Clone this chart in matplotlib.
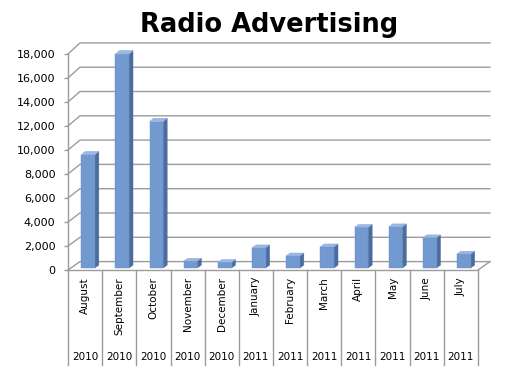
import matplotlib
matplotlib.use("Agg")
import matplotlib.pyplot as plt
import matplotlib.transforms as mtransforms
from matplotlib.patches import Polygon

# Data
months = ["August", "September", "October", "November", "December", "January",
          "February", "March", "April", "May", "June", "July"]
years = ["2010", "2010", "2010", "2010", "2010", "2011",
         "2011", "2011", "2011", "2011", "2011", "2011"]
values = [9400, 17750, 12150, 560, 460, 1670, 1000, 1750, 3360, 3410, 2500, 1150]
yticks = list(range(0, 18001, 2000))

# 3D look (oblique offset of the back wall, in data units)
DX = 0.35      # categories
DY = 700       # value units
GROW = 0.0125  # slight perspective growth of the back wall
F0, F1 = 0.25, 0.58   # bar depth range
BAR_W = 0.40

front_c = "#7399d1"
side_c = "#4b6c9f"
top_c = "#9bb8e4"
grid_c = "#9c9c9c"


def proj(x, v, d):
    return (x + d * DX, v * (1 + d * GROW) + d * DY)


fig = plt.figure(figsize=(5.2, 3.79), dpi=100)
ax = fig.add_axes([68 / 520, (379 - 270) / 379, 410 / 520, 216 / 379])
n = len(months)
ax.set_xlim(-0.5, n - 0.5)
ax.set_ylim(0, 18000)

# walls and gridlines
x0, x1 = -0.5, n - 0.5
for v in yticks:
    a = proj(x0, v, 0)
    b = proj(x0, v, 1)
    c = proj(x1, v, 1)
    ax.plot([a[0], b[0], c[0]], [a[1], b[1], c[1]], color=grid_c, lw=1.0,
            clip_on=False, zorder=1)
a = proj(x1, 0, 0)
b = proj(x1, 0, 1)
ax.plot([a[0], b[0]], [a[1], b[1]], color=grid_c, lw=1.0, clip_on=False, zorder=1)

# bars
for i, v in enumerate(values):
    l, r = i - BAR_W / 2, i + BAR_W / 2
    front = [proj(l, 0, F0), proj(r, 0, F0), proj(r, v, F0), proj(l, v, F0)]
    side = [proj(r, 0, F0), proj(r, 0, F1), proj(r, v, F1), proj(r, v, F0)]
    top = [proj(l, v, F0), proj(r, v, F0), proj(r, v, F1), proj(l, v, F1)]
    ax.add_patch(Polygon(side, closed=True, facecolor=side_c, edgecolor=side_c,
                         lw=0.3, clip_on=False, zorder=3))
    ax.add_patch(Polygon(front, closed=True, facecolor=front_c, edgecolor="#6a8fc6",
                         lw=0.3, clip_on=False, zorder=4))
    ax.add_patch(Polygon(top, closed=True, facecolor=top_c, edgecolor="#7d9fd3",
                         lw=0.3, clip_on=False, zorder=4))

# axes styling
for s in ["top", "right"]:
    ax.spines[s].set_visible(False)
for s in ["left", "bottom"]:
    ax.spines[s].set_color(grid_c)
    ax.spines[s].set_linewidth(1.0)
ax.set_yticks(yticks)
ax.set_yticklabels([f"{t:,}" for t in yticks], fontsize=8)
ax.tick_params(axis="y", direction="out", length=3, width=1.0, color=grid_c, pad=6)
ax.set_xticks(range(n))
ax.set_xticklabels(months, rotation=90, fontsize=7.5, va="top", ha="center")
ax.tick_params(axis="x", length=0, pad=5)

# two level category axis
trans = mtransforms.blended_transform_factory(ax.transData, ax.transAxes)
for k in range(n + 1):
    ax.plot([k - 0.5, k - 0.5], [0, -0.44], color=grid_c, lw=1.0,
            transform=trans, clip_on=False)
for i, y in enumerate(years):
    ax.text(i, -0.403, y, fontsize=7.5, ha="center", va="center", transform=trans)

fig.text(269.5 / 520, 1 - 25 / 379, "Radio Advertising", fontsize=18.5,
         fontweight="bold", ha="center", va="center")

plt.savefig("out.png", dpi=100)
